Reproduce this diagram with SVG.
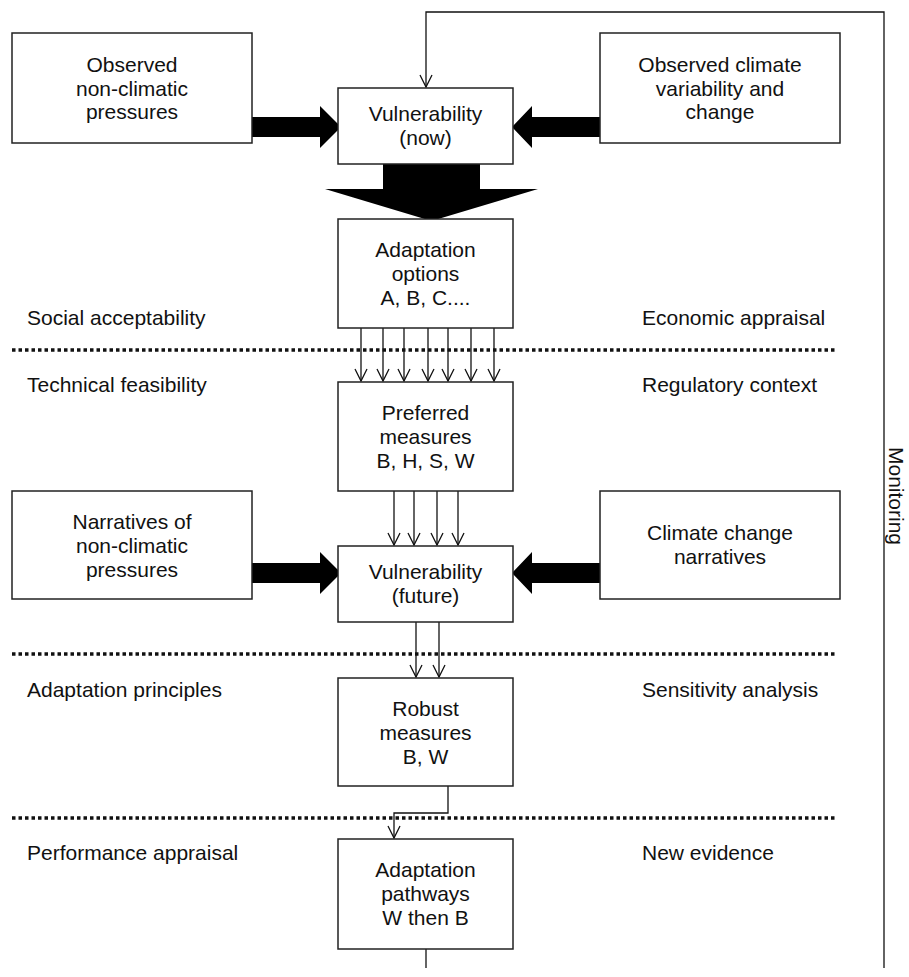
<svg xmlns="http://www.w3.org/2000/svg" width="909" height="977" viewBox="0 0 909 977">
<style>
  .box { fill: #fff; stroke: #222; stroke-width: 1.5; }
  .t { font-family: "Liberation Sans", Arial, sans-serif; font-size: 21px; fill: #111; }
  .c { text-anchor: middle; }
  .ln { fill: none; stroke: #111; stroke-width: 1.3; }
  .thick { fill: #000; stroke: none; }
  .dot { fill: none; stroke: #111; stroke-width: 3.5; stroke-dasharray: 3.5 3; }
</style>
<defs>
  <marker id="ah" markerUnits="userSpaceOnUse" markerWidth="14" markerHeight="14" refX="12" refY="6" orient="auto" overflow="visible">
    <path d="M0,0 L12,6 L0,12" fill="none" stroke="#111" stroke-width="1.3"/>
  </marker>
</defs>
<rect width="909" height="977" fill="#fff"/>

<g id="dividers">
  <line class="dot" x1="12" y1="350" x2="835" y2="350"/>
  <line class="dot" x1="12" y1="654" x2="835" y2="654"/>
  <line class="dot" x1="12" y1="818" x2="835" y2="818"/>
</g>

<g id="labels">
  <text class="t" x="27" y="325">Social acceptability</text>
  <text class="t" x="27" y="392">Technical feasibility</text>
  <text class="t" x="642" y="325">Economic appraisal</text>
  <text class="t" x="642" y="392">Regulatory context</text>
  <text class="t" x="27" y="697">Adaptation principles</text>
  <text class="t" x="642" y="697">Sensitivity analysis</text>
  <text class="t" x="27" y="860">Performance appraisal</text>
  <text class="t" x="642" y="860">New evidence</text>
  <text class="t c" transform="translate(889,496) rotate(90)">Monitoring</text>
</g>

<g id="connectors">
  <polyline class="ln" points="426,968 426,949"/>
  <polyline class="ln" points="884,968 884,12 426,12 426,87" marker-end="url(#ah)"/>
  <path class="thick" d="M252,117 L320,117 L320,106 L341,127 L320,148 L320,137 L252,137 Z"/>
  <path class="thick" d="M600,117 L532,117 L532,106 L512,127 L532,148 L532,137 L600,137 Z"/>
  <path class="thick" d="M383,163 L480,163 L480,189 L538,189 L431.5,221 L325,189 L383,189 Z"/>
  <line class="ln" x1="361" y1="328" x2="361" y2="381" marker-end="url(#ah)"/>
  <line class="ln" x1="383" y1="328" x2="383" y2="381" marker-end="url(#ah)"/>
  <line class="ln" x1="404" y1="328" x2="404" y2="381" marker-end="url(#ah)"/>
  <line class="ln" x1="428" y1="328" x2="428" y2="381" marker-end="url(#ah)"/>
  <line class="ln" x1="448" y1="328" x2="448" y2="381" marker-end="url(#ah)"/>
  <line class="ln" x1="471" y1="328" x2="471" y2="381" marker-end="url(#ah)"/>
  <line class="ln" x1="494" y1="328" x2="494" y2="381" marker-end="url(#ah)"/>
  <line class="ln" x1="394" y1="491" x2="394" y2="545" marker-end="url(#ah)"/>
  <line class="ln" x1="414" y1="491" x2="414" y2="545" marker-end="url(#ah)"/>
  <line class="ln" x1="437" y1="491" x2="437" y2="545" marker-end="url(#ah)"/>
  <line class="ln" x1="458" y1="491" x2="458" y2="545" marker-end="url(#ah)"/>
  <path class="thick" d="M252,563 L320,563 L320,552 L341,573 L320,594 L320,583 L252,583 Z"/>
  <path class="thick" d="M600,563 L532,563 L532,552 L512,573 L532,594 L532,583 L600,583 Z"/>
  <line class="ln" x1="416" y1="622" x2="416" y2="677" marker-end="url(#ah)"/>
  <line class="ln" x1="439" y1="622" x2="439" y2="677" marker-end="url(#ah)"/>
  <polyline class="ln" points="448,786 448,813 394,813 394,838" marker-end="url(#ah)"/>
</g>

<g id="obs-nonclimatic">
  <rect class="box" x="12" y="33" width="240" height="110"/>
  <text class="t c" x="132" y="72">Observed</text>
  <text class="t c" x="132" y="96">non-climatic</text>
  <text class="t c" x="132" y="119">pressures</text>
</g>
<g id="obs-climate">
  <rect class="box" x="600" y="33" width="240" height="110"/>
  <text class="t c" x="720" y="72">Observed climate</text>
  <text class="t c" x="720" y="96">variability and</text>
  <text class="t c" x="720" y="119">change</text>
</g>
<g id="vuln-now">
  <rect class="box" x="338" y="88" width="175" height="76"/>
  <text class="t c" x="425.5" y="121">Vulnerability</text>
  <text class="t c" x="425.5" y="145">(now)</text>
</g>
<g id="adapt-options">
  <rect class="box" x="338" y="219" width="175" height="109"/>
  <text class="t c" x="425.5" y="257">Adaptation</text>
  <text class="t c" x="425.5" y="281">options</text>
  <text class="t c" x="425.5" y="305">A, B, C....</text>
</g>
<g id="preferred">
  <rect class="box" x="338" y="382" width="175" height="109"/>
  <text class="t c" x="425.5" y="420">Preferred</text>
  <text class="t c" x="425.5" y="444">measures</text>
  <text class="t c" x="425.5" y="468">B, H, S, W</text>
</g>
<g id="narr-nonclimatic">
  <rect class="box" x="12" y="491" width="240" height="108"/>
  <text class="t c" x="132" y="529">Narratives of</text>
  <text class="t c" x="132" y="553">non-climatic</text>
  <text class="t c" x="132" y="577">pressures</text>
</g>
<g id="narr-climate">
  <rect class="box" x="600" y="491" width="240" height="108"/>
  <text class="t c" x="720" y="540">Climate change</text>
  <text class="t c" x="720" y="564">narratives</text>
</g>
<g id="vuln-future">
  <rect class="box" x="338" y="546" width="175" height="76"/>
  <text class="t c" x="425.5" y="579">Vulnerability</text>
  <text class="t c" x="425.5" y="603">(future)</text>
</g>
<g id="robust">
  <rect class="box" x="338" y="678" width="175" height="108"/>
  <text class="t c" x="425.5" y="716">Robust</text>
  <text class="t c" x="425.5" y="740">measures</text>
  <text class="t c" x="425.5" y="764">B, W</text>
</g>
<g id="pathways">
  <rect class="box" x="338" y="839" width="175" height="110"/>
  <text class="t c" x="425.5" y="877">Adaptation</text>
  <text class="t c" x="425.5" y="901">pathways</text>
  <text class="t c" x="425.5" y="925">W then B</text>
</g>
</svg>
